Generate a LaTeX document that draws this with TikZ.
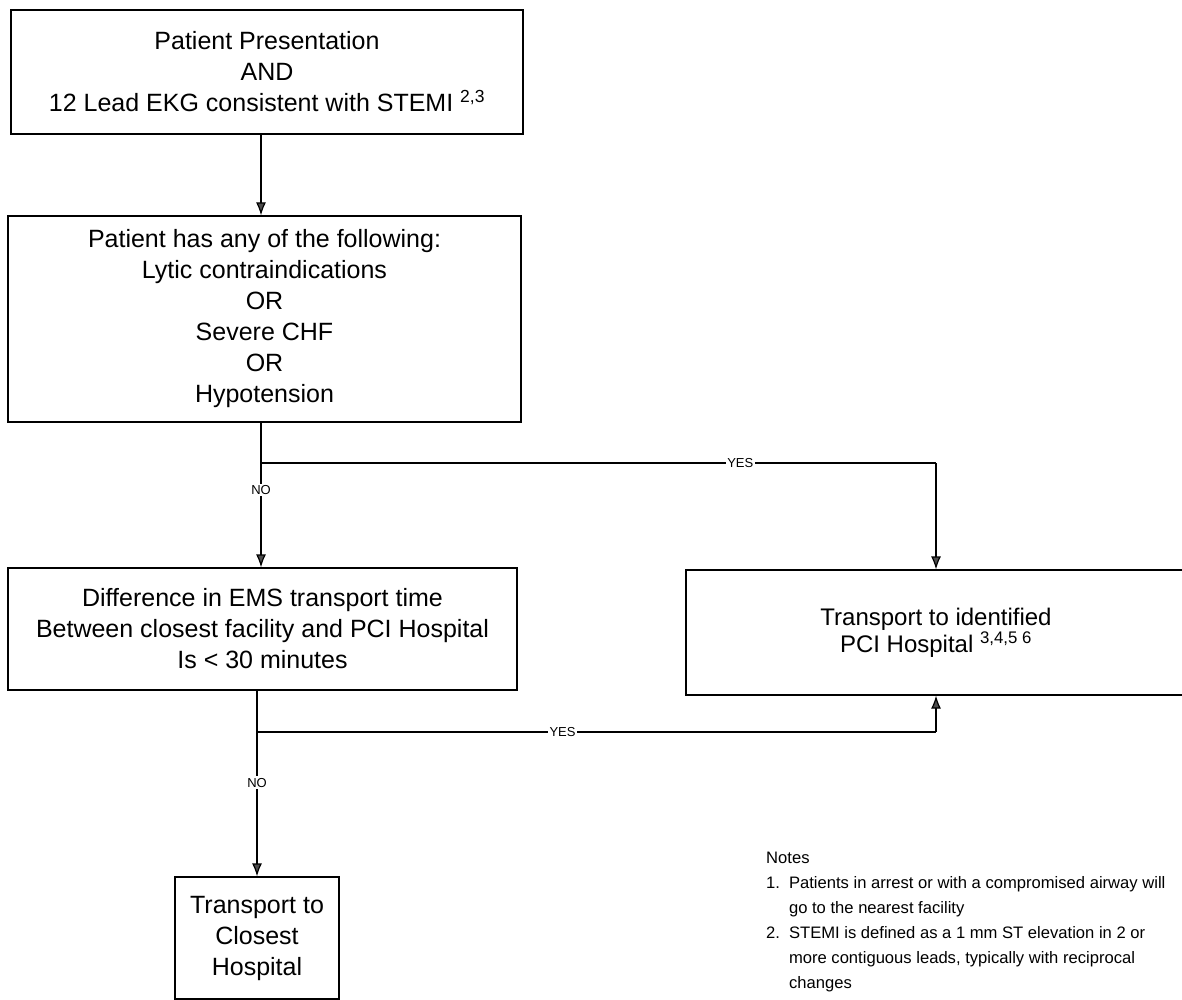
\documentclass[tikz,border=0pt]{standalone}
\usepackage{fontspec}
\setmainfont{Liberation Sans}
\usetikzlibrary{arrows.meta,positioning}

\begin{document}
\begin{tikzpicture}[x=1pt,y=-1pt,
  box/.style={draw, line width=1.2pt, align=center, inner sep=0pt,
    font=\fontsize{25}{31}\selectfont},
  flow/.style={line width=1.2pt, -{Latex[length=13pt,width=10pt,fill=black!70]}},
  wire/.style={line width=1.2pt},
  lbl/.style={fill=white, inner sep=1.5pt, font=\fontsize{13}{13}\selectfont},
]
  \useasboundingbox (0,0) rectangle (1182,1000);

  \node[box, minimum width=512pt, minimum height=124pt] (pres) at (267,72)
    {Patient Presentation\\AND\\12 Lead EKG consistent with STEMI \textsuperscript{2,3}};
  \node[box, minimum width=513pt, minimum height=206pt] (crit) at (264.5,319)
    {Patient has any of the following:\\Lytic contraindications\\OR\\Severe CHF\\OR\\Hypotension};
  \node[box, minimum width=509pt, minimum height=122pt] (diff) at (262.5,629)
    {Difference in EMS transport time\\Between closest facility and PCI Hospital\\Is < 30 minutes};
  \node[box, minimum width=500pt, minimum height=125pt,
    font=\fontsize{24}{27}\selectfont] (pci) at (936,632.5)
    {Transport to identified\\PCI Hospital \textsuperscript{3,4,5 6}};
  \node[box, minimum width=164pt, minimum height=122pt] (close) at (257,938)
    {Transport to\\Closest\\Hospital};

  \node[anchor=north west, inner sep=0pt, font=\fontsize{16.6}{25}\selectfont] (notes) at (766,846)
    {\begin{tabular}{@{}l@{\hspace{9pt}}l@{}}
      \multicolumn{2}{@{}l}{Notes}\\
      1. & Patients in arrest or with a compromised airway will\\
         & go to the nearest facility\\
      2. & STEMI is defined as a 1 mm ST elevation in 2 or\\
         & more contiguous leads, typically with reciprocal\\
         & changes
    \end{tabular}};

  \coordinate (s1) at (261,463);
  \coordinate (s2) at (257,732);

  \draw[flow] (pres.south -| s1) -- (crit.north -| s1);
  \draw[wire] (crit.south -| s1) -- (s1);
  \draw[flow] (s1) -- node[lbl, pos=0.26] (no1) {NO} (diff.north -| s1);
  \draw[wire] (s1) -- node[lbl, pos=0.71] (yes1) {YES} (s1 -| pci.north);
  \draw[flow] (s1 -| pci.north) -- (pci.north);

  \draw[wire] (diff.south -| s2) -- (s2);
  \draw[flow] (s2) -- node[lbl, pos=0.35] (no2) {NO} (close.north);
  \draw[wire] (s2) -- node[lbl, pos=0.45] (yes2) {YES} (s2 -| pci.south);
  \draw[flow] (s2 -| pci.south) -- (pci.south);
\end{tikzpicture}
\end{document}
